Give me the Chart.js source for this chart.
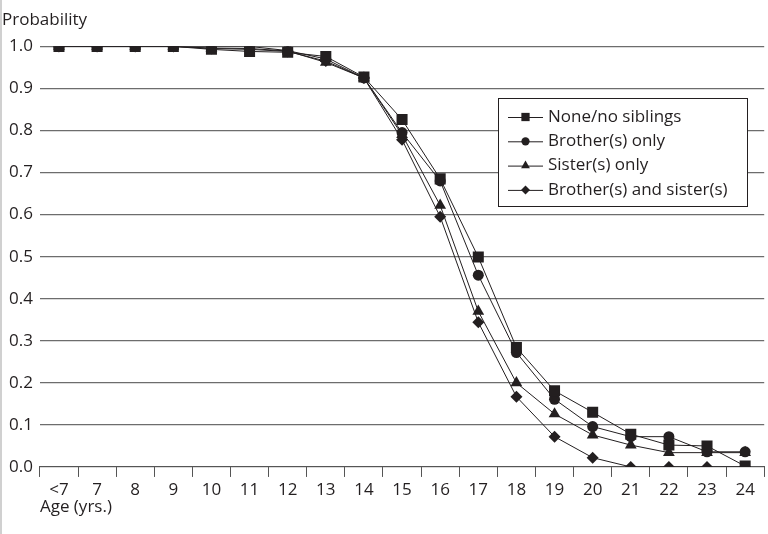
<!DOCTYPE html>
<html>
<head>
<meta charset="utf-8">
<script src="https://cdn.jsdelivr.net/npm/chart.js@4/dist/chart.umd.min.js"></script>
<style>
  html, body { margin: 0; padding: 0; background: #fff; overflow: hidden; }
  #wrap { position: relative; width: 772px; height: 534px; }
</style>
</head>
<body>
<div id="wrap"><canvas id="myChart"></canvas></div>
<script>
var ages = ['<7', '7', '8', '9', '10', '11', '12', '13', '14', '15', '16', '17', '18', '19', '20', '21', '22', '23', '24'];

var noneSib   = [1.0, 1.0, 1.0, 1.0, 0.993, 0.988, 0.986, 0.976, 0.927, 0.826, 0.685, 0.499, 0.284, 0.181, 0.130, 0.078, 0.052, 0.050, 0.002];
var brothers  = [1.0, 1.0, 1.0, 1.0, 1.0, 1.0, 0.990, 0.970, 0.925, 0.795, 0.680, 0.456, 0.272, 0.161, 0.096, 0.072, 0.072, 0.036, 0.036];
var sisters   = [1.0, 1.0, 1.0, 1.0, 0.996, 0.995, 0.989, 0.962, 0.925, 0.790, 0.622, 0.370, 0.200, 0.126, 0.076, 0.052, 0.034, 0.034, 0.034];
var bothSib   = [1.0, 1.0, 1.0, 1.0, 0.995, 0.993, 0.988, 0.965, 0.925, 0.778, 0.595, 0.344, 0.167, 0.072, 0.022, 0.0, 0.0, 0.0, 0.0];

var seriesNames = ['None/no siblings', 'Brother(s) only', 'Sister(s) only', 'Brother(s) and sister(s)'];
var yTicks = [0, 0.1, 0.2, 0.3, 0.4, 0.5, 0.6, 0.7, 0.8, 0.9, 1.0];

var FONT = '"Open Sans", sans-serif';
var INK = '#231f20';

function mkSet(name, data, style, r){
    return {
        label: name,
        data: data,
        borderColor: INK,
        backgroundColor: INK,
        borderWidth: 1,
        pointStyle: style,
        pointRadius: r,
        pointHoverRadius: r,
        pointBorderWidth: 0,
        tension: 0
    };
}

// legend box drawn inside the plot, plus the thin grey frame on the left
var boxLegend = {
    id: 'boxLegend',
    afterDraw: function(chart){
        var ctx = chart.ctx;
        ctx.save();
        ctx.fillStyle = '#d0d0d0';
        ctx.fillRect(0, 0, 2, chart.height);

        var x0 = 498, y0 = 98, w = 249, h = 108;
        ctx.fillStyle = '#fff';
        ctx.fillRect(x0, y0, w, h);
        ctx.strokeStyle = INK;
        ctx.lineWidth = 1;
        ctx.strokeRect(x0 + 0.5, y0 + 0.5, w, h);

        ctx.font = '17px ' + FONT;
        ctx.textBaseline = 'middle';
        chart.data.datasets.forEach(function(ds, i){
            var y = y0 + 19 + i * 24.3;
            ctx.strokeStyle = INK;
            ctx.beginPath();
            ctx.moveTo(x0 + 10, y + 0.5);
            ctx.lineTo(x0 + 45, y + 0.5);
            ctx.stroke();
            ctx.fillStyle = INK;
            Chart.helpers.drawPoint(ctx, {pointStyle: ds.pointStyle, radius: ds.pointRadius * 0.75, borderWidth: 0}, x0 + 27.5, y);
            ctx.fillStyle = INK;
            ctx.fillText(ds.label, x0 + 50, y);
        });
        ctx.restore();
    }
};

function chart1(){
    const ctx = document.getElementById('myChart').getContext('2d');
    const myChart = new Chart(ctx, {
        type: 'line',
        data: {
            labels: ages,
            datasets: [
                mkSet(seriesNames[0], noneSib, 'rect', 7.8),
                mkSet(seriesNames[1], brothers, 'circle', 5.5),
                mkSet(seriesNames[2], sisters, 'triangle', 6.8),
                mkSet(seriesNames[3], bothSib, 'rectRot', 6)
            ]
        },
        options: {
            responsive: true,
            maintainAspectRatio: false,
            animation: false,
            layout: { padding: { left: 2, right: 0, top: 4, bottom: 23 } },
            plugins: {
                legend: { display: false },
                tooltip: { enabled: false },
                title: {
                    display: true,
                    text: 'Probability',
                    align: 'start',
                    color: INK,
                    font: { family: FONT, size: 17, weight: 'normal' },
                    padding: { top: 6, bottom: 16 }
                }
            },
            scales: {
                x: {
                    offset: true,
                    grid: {
                        offset: true,
                        drawOnChartArea: false,
                        drawTicks: true,
                        tickLength: 10,
                        color: '#555'
                    },
                    border: { display: true, color: '#555' },
                    ticks: {
                        color: INK,
                        font: { family: FONT, size: 17 },
                        padding: 3,
                        maxRotation: 0,
                        autoSkip: false
                    },
                    title: {
                        display: true,
                        text: 'Age (yrs.)',
                        align: 'start',
                        color: INK,
                        font: { family: FONT, size: 17, lineHeight: 0.45 },
                        padding: { top: 0, bottom: 0 }
                    }
                },
                y: {
                    min: 0,
                    max: 1,
                    afterBuildTicks: function(axis){
                        axis.ticks = yTicks.map(function(v){ return { value: v }; });
                    },
                    grid: {
                        drawTicks: false,
                        color: '#6d6d6d',
                        lineWidth: 1.2
                    },
                    border: { display: false },
                    ticks: {
                        color: INK,
                        font: { family: FONT, size: 17 },
                        padding: 7,
                        callback: function(v){ return Number(v).toFixed(1); }
                    }
                }
            }
        },
        plugins: [boxLegend]
    });
}
chart1()
</script>
</body>
</html>
